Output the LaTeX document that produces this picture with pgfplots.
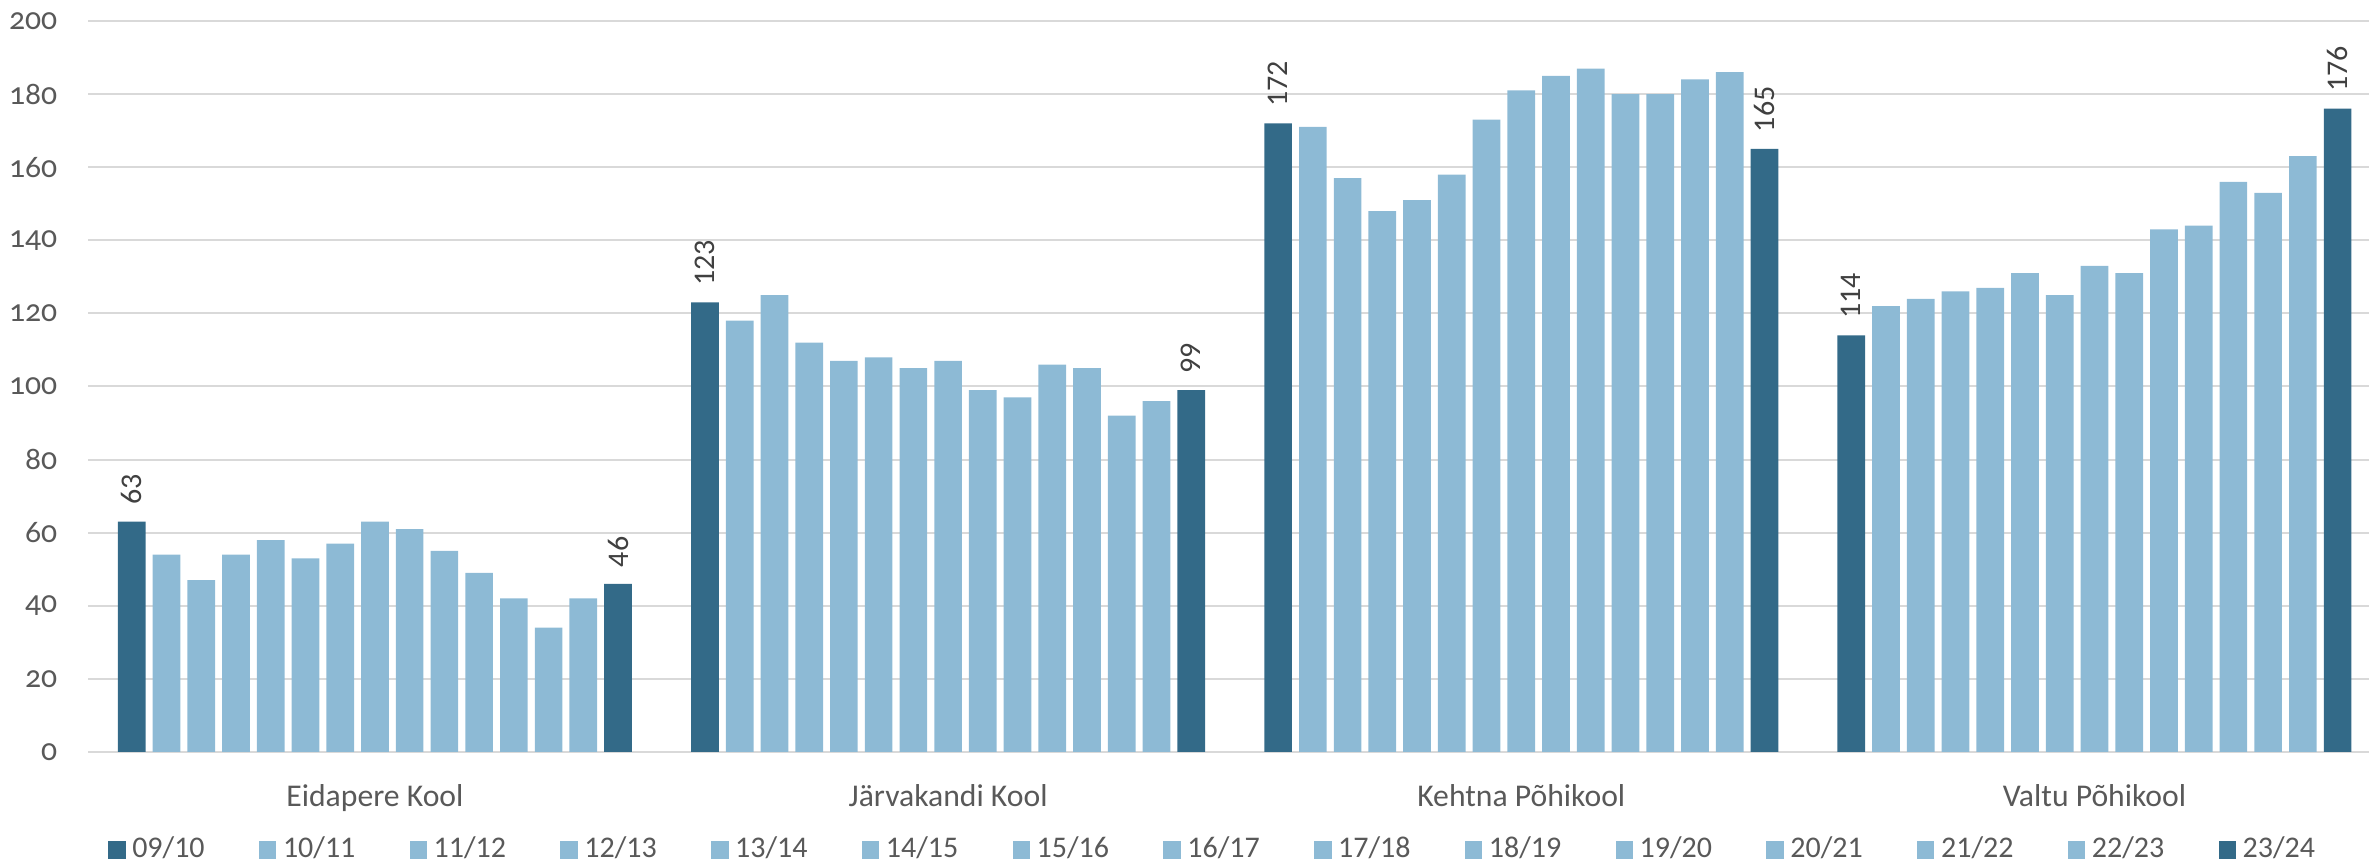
\documentclass[border=0pt]{standalone}
\usepackage{fontspec}
\setmainfont{Carlito}
\newfontfamily\tickfont{Carlito}[Numbers=OldStyle]
\usepackage{pgfplots}
\pgfplotsset{compat=1.18}
\usepackage{pgfplotstable}

\definecolor{dark}{HTML}{336A88}
\definecolor{light}{HTML}{8DBAD5}
\definecolor{gridgray}{HTML}{D9D9D9}
\definecolor{txt}{HTML}{595959}
\definecolor{lbl}{HTML}{404040}

% one row per school, one column per school year (09/10 ... 23/24)
\pgfplotstableread{
idx s0 s1 s2 s3 s4 s5 s6 s7 s8 s9 s10 s11 s12 s13 s14
0 63 54 47 54 58 53 57 63 61 55 49 42 34 42 46
1 123 118 125 112 107 108 105 107 99 97 106 105 92 96 99
2 172 171 157 148 151 158 173 181 185 187 180 180 184 186 165
3 114 122 124 126 127 131 125 133 131 143 144 156 153 163 176
}\schools

\pgfplotsset{
  lightbar/.style={fill=light, draw=none},
  darkbar/.style={fill=dark, draw=none,
    nodes near coords,
    nodes near coords style={rotate=90, anchor=west, xshift=1.5pt,
      font=\fontsize{9}{10}\selectfont, text=lbl}},
}

\begin{document}
\begin{tikzpicture}
\begin{axis}[
  name=ax,
  scale only axis,
  width=684.2pt, height=219.3pt,
  ybar, bar width=0.0483,
  xmin=-0.5, xmax=3.479,
  ymin=0, ymax=200,
  ytick={0,20,...,200},
  xtick={0,1,2,3},
  xticklabels={Eidapere Kool, Järvakandi Kool, Kehtna Põhikool, Valtu Põhikool},
  axis line style={draw=none},
  major tick length=0pt,
  ymajorgrids, grid style={gridgray, line width=0.6pt},
  /pgf/number format/assume math mode=true,
  xticklabel style={anchor=base, yshift=-16.5pt,
    font=\fontsize{9.5}{11}\selectfont, text=txt},
  yticklabel style={anchor=east, xshift=-5.8pt,
    font=\tickfont\fontsize{9.5}{11}\selectfont, text=txt},
  legend columns=15,
  legend style={draw=none, at={(0.494,-0.134)}, anchor=center,
    font=\fontsize{9}{10}\selectfont, text=txt,
    /tikz/every even column/.append style={column sep=14.3pt}},
  legend image code/.code={\fill[#1] (0pt,-2.6pt) rectangle (5.2pt,2.6pt);},
]
\addplot[darkbar,  bar shift=-0.4242] table[x=idx,y=s0]  {\schools}; \addlegendentry{09/10}
\addplot[lightbar, bar shift=-0.3636] table[x=idx,y=s1]  {\schools}; \addlegendentry{10/11}
\addplot[lightbar, bar shift=-0.3030] table[x=idx,y=s2]  {\schools}; \addlegendentry{11/12}
\addplot[lightbar, bar shift=-0.2424] table[x=idx,y=s3]  {\schools}; \addlegendentry{12/13}
\addplot[lightbar, bar shift=-0.1818] table[x=idx,y=s4]  {\schools}; \addlegendentry{13/14}
\addplot[lightbar, bar shift=-0.1212] table[x=idx,y=s5]  {\schools}; \addlegendentry{14/15}
\addplot[lightbar, bar shift=-0.0606] table[x=idx,y=s6]  {\schools}; \addlegendentry{15/16}
\addplot[lightbar, bar shift=0]       table[x=idx,y=s7]  {\schools}; \addlegendentry{16/17}
\addplot[lightbar, bar shift=0.0606]  table[x=idx,y=s8]  {\schools}; \addlegendentry{17/18}
\addplot[lightbar, bar shift=0.1212]  table[x=idx,y=s9]  {\schools}; \addlegendentry{18/19}
\addplot[lightbar, bar shift=0.1818]  table[x=idx,y=s10] {\schools}; \addlegendentry{19/20}
\addplot[lightbar, bar shift=0.2424]  table[x=idx,y=s11] {\schools}; \addlegendentry{20/21}
\addplot[lightbar, bar shift=0.3030]  table[x=idx,y=s12] {\schools}; \addlegendentry{21/22}
\addplot[lightbar, bar shift=0.3636]  table[x=idx,y=s13] {\schools}; \addlegendentry{22/23}
\addplot[darkbar,  bar shift=0.4242]  table[x=idx,y=s14] {\schools}; \addlegendentry{23/24}
\end{axis}
\pgfresetboundingbox
\path ([shift={(-26.5pt,-34.2pt)}]ax.south west) rectangle ([shift={(0pt,6.3pt)}]ax.north east);
\end{tikzpicture}
\end{document}
